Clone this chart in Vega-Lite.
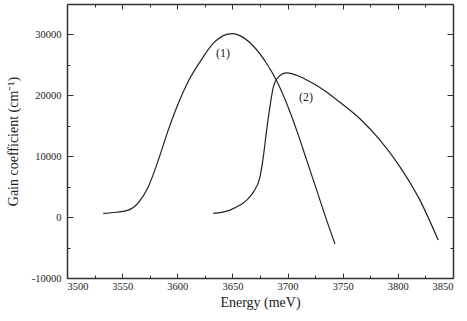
{
  "$schema": "https://vega.github.io/schema/vega-lite/v6.json",
  "width": 386,
  "height": 274,
  "autosize": {"type": "none"},
  "padding": {"left": 67, "top": 4, "right": 14, "bottom": 43},
  "background": "white",
  "config": {
    "view": {"stroke": null},
    "axis": {
      "grid": false,
      "domainColor": "#333333",
      "domainWidth": 1.5,
      "tickColor": "#333333",
      "tickWidth": 1,
      "labelFont": "Liberation Serif",
      "labelFontSize": 10.5,
      "labelColor": "#222222",
      "titleFont": "Liberation Serif",
      "titleFontSize": 14,
      "titleFontWeight": "normal",
      "titleColor": "#222222"
    }
  },
  "datasets": {
    "curves": [
      {"s": "1", "E": 3532.9, "G": 600},
      {"s": "1", "E": 3545, "G": 800},
      {"s": "1", "E": 3555.6, "G": 1150},
      {"s": "1", "E": 3564.6, "G": 2350},
      {"s": "1", "E": 3573.7, "G": 4980},
      {"s": "1", "E": 3582.8, "G": 9360},
      {"s": "1", "E": 3591.8, "G": 14290},
      {"s": "1", "E": 3600.9, "G": 18670},
      {"s": "1", "E": 3610, "G": 22300},
      {"s": "1", "E": 3620.6, "G": 25500},
      {"s": "1", "E": 3632.6, "G": 28520},
      {"s": "1", "E": 3644.8, "G": 30000},
      {"s": "1", "E": 3650.5, "G": 30150},
      {"s": "1", "E": 3656.8, "G": 29800},
      {"s": "1", "E": 3668.9, "G": 28100},
      {"s": "1", "E": 3681, "G": 25230},
      {"s": "1", "E": 3689.5, "G": 22600},
      {"s": "1", "E": 3699.2, "G": 18670},
      {"s": "1", "E": 3708.2, "G": 14290},
      {"s": "1", "E": 3717.3, "G": 9360},
      {"s": "1", "E": 3726.4, "G": 4430},
      {"s": "1", "E": 3735.4, "G": -490},
      {"s": "1", "E": 3743, "G": -4400},
      {"s": "2", "E": 3632.6, "G": 600},
      {"s": "2", "E": 3647.8, "G": 1150},
      {"s": "2", "E": 3656.8, "G": 1970},
      {"s": "2", "E": 3663, "G": 2800},
      {"s": "2", "E": 3669, "G": 4100},
      {"s": "2", "E": 3675, "G": 6620},
      {"s": "2", "E": 3678, "G": 9900},
      {"s": "2", "E": 3681, "G": 14290},
      {"s": "2", "E": 3684, "G": 18100},
      {"s": "2", "E": 3687, "G": 21300},
      {"s": "2", "E": 3691.6, "G": 23000},
      {"s": "2", "E": 3699.2, "G": 23700},
      {"s": "2", "E": 3708.2, "G": 23300},
      {"s": "2", "E": 3716, "G": 22650},
      {"s": "2", "E": 3723.3, "G": 21950},
      {"s": "2", "E": 3735, "G": 20600},
      {"s": "2", "E": 3747.5, "G": 18850},
      {"s": "2", "E": 3765.6, "G": 16150},
      {"s": "2", "E": 3783.8, "G": 12640},
      {"s": "2", "E": 3801.9, "G": 8260},
      {"s": "2", "E": 3820, "G": 2790},
      {"s": "2", "E": 3836.6, "G": -3780}
    ],
    "labels": [
      {"E": 3641.4, "G": 26900, "t": "(1)"},
      {"E": 3716.7, "G": 19750, "t": "(2)"}
    ]
  },
  "layer": [
    {
      "data": {"name": "curves"},
      "mark": {"type": "line", "interpolate": "monotone", "color": "#222222", "strokeWidth": 1.2},
      "encoding": {
        "x": {
          "field": "E", "type": "quantitative",
          "scale": {"domain": [3500, 3850], "nice": false, "zero": false},
          "axis": {
            "title": "Energy (meV)",
            "values": [3500, 3525, 3550, 3575, 3600, 3625, 3650, 3675, 3700, 3725, 3750, 3775, 3800, 3825, 3850],
            "labelExpr": "datum.value % 50 === 0 ? '' + datum.value : ''",
            "tickSize": {"condition": {"test": "datum.value % 50 !== 0", "value": -3}, "value": -5},
            "labelPadding": 8,
            "titlePadding": 4
          }
        },
        "y": {
          "field": "G", "type": "quantitative",
          "scale": {"domain": [-10000, 35000], "nice": false, "zero": false},
          "axis": {
            "title": "Gain coefficient (cm⁻¹)",
            "values": [-10000, -5000, 0, 5000, 10000, 15000, 20000, 25000, 30000],
            "labelExpr": "datum.value % 10000 === 0 ? '' + datum.value : ''",
            "tickSize": {"condition": {"test": "datum.value % 10000 !== 0", "value": -3}, "value": -6},
            "labelPadding": 12,
            "titlePadding": 11
          }
        },
        "detail": {"field": "s"}
      }
    },
    {
      "data": {"name": "labels"},
      "mark": {"type": "text", "font": "Liberation Serif", "fontSize": 12, "color": "#222222"},
      "encoding": {
        "x": {
          "field": "E", "type": "quantitative",
          "axis": {
            "orient": "top", "title": null, "labels": false,
            "values": [3500, 3525, 3550, 3575, 3600, 3625, 3650, 3675, 3700, 3725, 3750, 3775, 3800, 3825, 3850],
            "tickSize": {"condition": {"test": "datum.value % 50 !== 0", "value": -3}, "value": -5}
          }
        },
        "y": {
          "field": "G", "type": "quantitative",
          "axis": {
            "orient": "right", "title": null, "labels": false,
            "values": [-10000, -5000, 0, 5000, 10000, 15000, 20000, 25000, 30000],
            "tickSize": {"condition": {"test": "datum.value % 10000 !== 0", "value": -3}, "value": -6}
          }
        },
        "text": {"field": "t"}
      }
    }
  ],
  "resolve": {"axis": {"x": "independent", "y": "independent"}}
}
